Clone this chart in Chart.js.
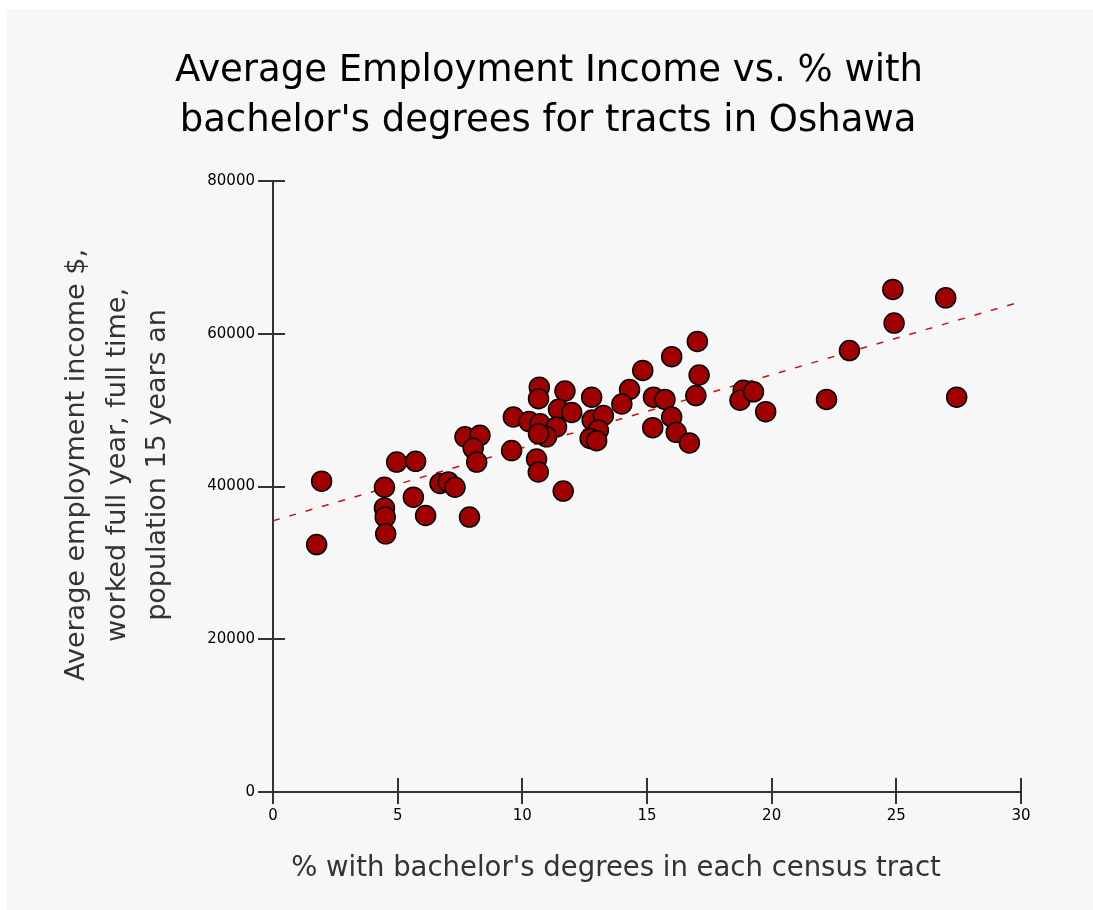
<!DOCTYPE html>
<html>
<head>
<meta charset="utf-8">
<script src="https://cdn.jsdelivr.net/npm/chart.js@4"></script>
<style>
  html, body { margin: 0; padding: 0; background: #fff; }
  canvas { display: block; }
</style>
</head>
<body>
<canvas id="oshawa" width="1093" height="910"></canvas>
<script>
// % with bachelor's degrees per census tract
const pctBachelor = [
    1.75, 1.95, 4.47, 4.47, 4.5, 4.52, 4.96, 5.72, 5.63, 6.12,
    7.88, 6.7, 7.03, 7.3, 7.7, 8.3, 8.03, 8.17, 9.57, 9.64,
    10.27, 10.71, 10.68, 10.65, 11.71, 12.78, 14.3, 13.99, 11.45, 11.98,
    11.37, 10.97, 10.65, 10.57, 10.64, 11.64, 12.8, 12.91, 13.25, 13.05,
    12.72, 12.98, 17.02, 15.99, 14.83, 17.09, 16.96, 15.26, 15.72, 15.99,
    15.23, 16.17, 16.7, 18.86, 18.73, 19.27, 19.76, 24.86, 26.98, 24.91,
    23.12, 22.2, 27.42
];
// average employment income ($)
const avgIncome = [
    32400, 40700, 39900, 37200, 36000, 33800, 43200, 43300, 38600, 36200,
    36000, 40400, 40600, 39900, 46500, 46700, 45000, 43200, 44700, 49100,
    48500, 48200, 53000, 51500, 52500, 51700, 52700, 50800, 50100, 49700,
    47800, 46500, 46900, 43600, 41900, 39400, 48700, 46700, 49300, 47400,
    46300, 46000, 59000, 57000, 55200, 54600, 51900, 51700, 51400, 49100,
    47700, 47100, 45700, 52600, 51300, 52400, 49800, 65800, 64700, 61400,
    57800, 51400, 51700
];
// fitted trend line end points
const trendX = [0, 30];
const trendY = [35500, 64200];

const xTicks = [0, 5, 10, 15, 20, 25, 30];
const yTicks = [0, 20000, 40000, 60000, 80000];

const titleLines = ["Average Employment Income vs. % with", "bachelor's degrees for tracts in Oshawa"];
const xTitle = "% with bachelor's degrees in each census tract";
const yTitleLines = ["Average employment income $,", "worked full year, full time,", "population 15 years an"];

const FONT = "'DejaVu Sans', Tahoma, Verdana, sans-serif";

const scatterPts = pctBachelor.map((x, i) => ({ x: x, y: avgIncome[i] }));
const trendPts = trendX.map((x, i) => ({ x: x, y: trendY[i] }));

// background panel + inward tick halves + titles
const backdrop = {
    id: 'backdrop',
    beforeDraw(chart) {
        const ctx = chart.ctx;
        ctx.save();
        ctx.fillStyle = '#ffffff';
        ctx.fillRect(0, 0, chart.width, chart.height);
        ctx.fillStyle = '#f7f7f7';
        ctx.fillRect(7, 9, chart.width - 7, chart.height - 9);
        ctx.restore();
    },
    beforeDatasetsDraw(chart) {
        const ctx = chart.ctx;
        const area = chart.chartArea;
        const xs = chart.scales.x, ys = chart.scales.y;
        ctx.save();
        ctx.strokeStyle = '#333';
        ctx.lineWidth = 2;
        ctx.beginPath();
        xTicks.forEach(v => {
            const px = Math.round(xs.getPixelForValue(v));
            ctx.moveTo(px, area.bottom);
            ctx.lineTo(px, area.bottom - 14);
        });
        yTicks.forEach(v => {
            const py = Math.round(ys.getPixelForValue(v));
            ctx.moveTo(area.left, py);
            ctx.lineTo(area.left + 12, py);
        });
        ctx.stroke();
        ctx.restore();
    },
    afterDraw(chart) {
        const ctx = chart.ctx;
        ctx.save();
        ctx.fillStyle = '#000';
        ctx.textAlign = 'center';
        ctx.textBaseline = 'middle';
        ctx.font = '37px ' + FONT;
        ctx.fillText(titleLines[0], 549, 71);
        ctx.fillText(titleLines[1], 548, 121);

        ctx.fillStyle = '#333';
        ctx.font = '27.5px ' + FONT;
        ctx.fillText(xTitle, 616, 869);

        ctx.font = '27px ' + FONT;
        const xs = [77, 118, 158];
        yTitleLines.forEach((line, i) => {
            ctx.save();
            ctx.translate(xs[i], 465);
            ctx.rotate(-Math.PI / 2);
            ctx.fillText(line, 0, 0);
            ctx.restore();
        });
        ctx.restore();
    }
};

const ctx = document.getElementById('oshawa').getContext('2d');
const oshawaChart = new Chart(ctx, {
    type: 'scatter',
    data: {
        datasets: [
            {
                label: 'Tracts',
                data: scatterPts,
                backgroundColor: '#a00000',
                borderColor: '#000',
                borderWidth: 1.5,
                pointRadius: 10,
                pointHoverRadius: 10
            },
            {
                type: 'line',
                label: 'Trend',
                data: trendPts,
                borderColor: '#cc1010',
                borderWidth: 1.5,
                borderDash: [7, 10],
                pointRadius: 0,
                fill: false,
                order: 1
            }
        ]
    },
    options: {
        responsive: false,
        animation: false,
        devicePixelRatio: 1,
        layout: { padding: { top: 181, right: 72, left: 0, bottom: 0 } },
        plugins: {
            legend: { display: false },
            title: { display: false },
            tooltip: { enabled: false }
        },
        scales: {
            x: {
                type: 'linear',
                min: 0,
                max: 30,
                afterBuildTicks(scale) { scale.ticks = xTicks.map(v => ({ value: v })); },
                afterFit(scale) { scale.height = 910 - 792; },
                grid: { drawOnChartArea: false, drawTicks: true, tickLength: 12, color: '#333', lineWidth: 2 },
                border: { display: true, color: '#333', width: 2 },
                ticks: { color: '#000', font: { family: FONT, size: 15 }, padding: 3, maxRotation: 0 }
            },
            y: {
                type: 'linear',
                min: 0,
                max: 80000,
                afterBuildTicks(scale) { scale.ticks = yTicks.map(v => ({ value: v })); },
                afterFit(scale) { scale.width = 273; },
                grid: { drawOnChartArea: false, drawTicks: true, tickLength: 15, color: '#333', lineWidth: 2 },
                border: { display: true, color: '#333', width: 2 },
                ticks: { color: '#000', font: { family: FONT, size: 15 }, padding: 3,
                    callback: v => String(v) }
            }
        }
    },
    plugins: [backdrop]
});
</script>
</body>
</html>
